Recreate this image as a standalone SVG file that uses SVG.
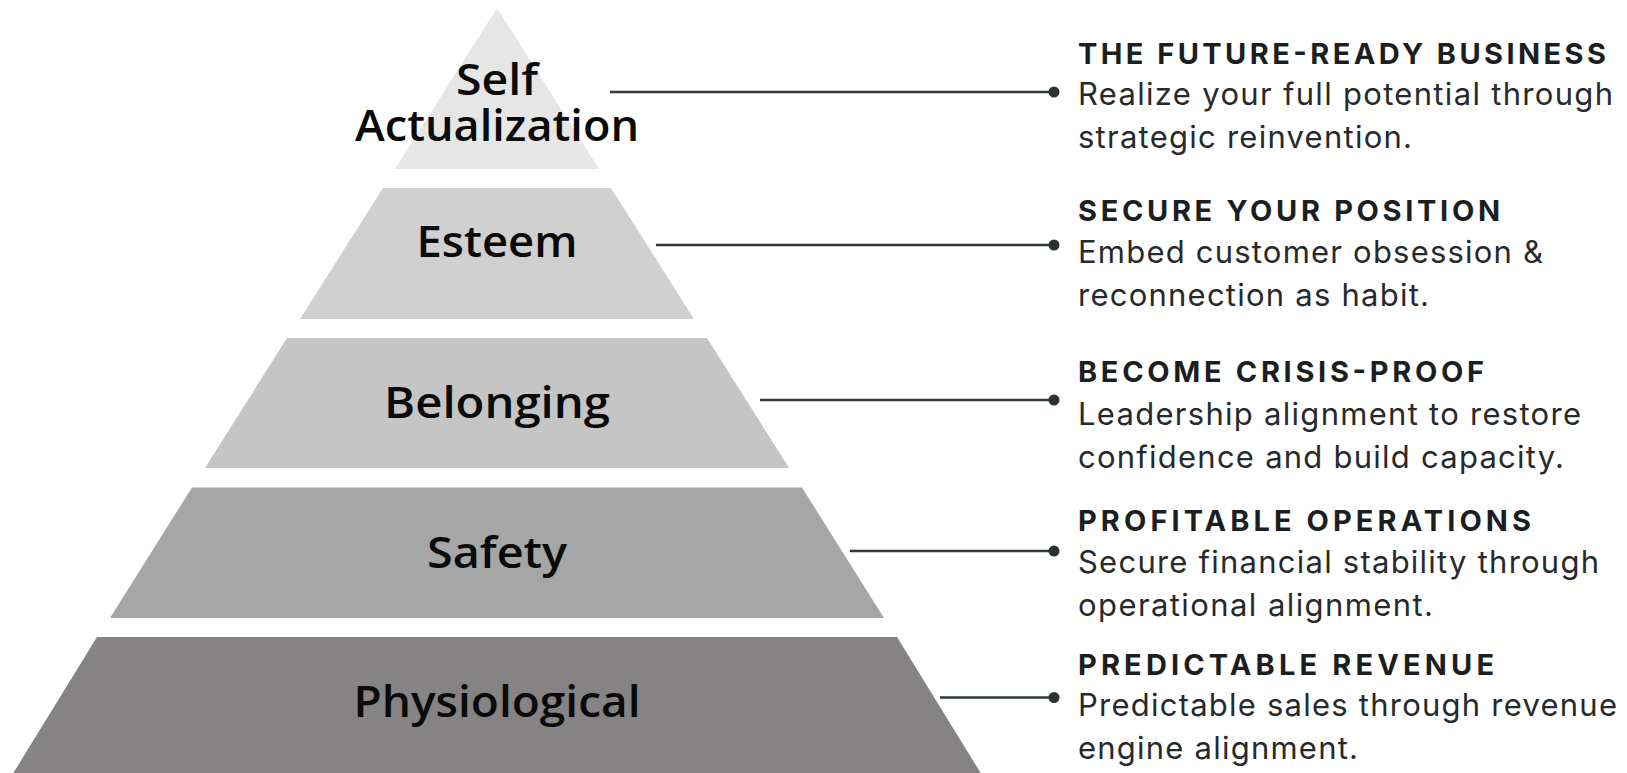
<svg xmlns="http://www.w3.org/2000/svg" width="1627" height="773" viewBox="0 0 1627 773">
  <style>
    .lvl { font-family: "Open Sans", "Liberation Sans", sans-serif; font-weight: 600; font-size: 44px; fill: #0a0a0a; text-anchor: middle; }
    .hd { font-family: Inter, "Liberation Sans", sans-serif; font-weight: 700; font-size: 29px; fill: #1c1f21; }
    .bd { font-family: Inter, "Liberation Sans", sans-serif; font-weight: 400; font-size: 31px; fill: #272a2c; }
    .conn { stroke: #2f393b; stroke-width: 2.6; fill: none; }
    .dot { fill: #2a3234; }
  </style>
  <rect x="0" y="0" width="1627" height="773" fill="#ffffff"/>

  <g id="level-self-actualization">
    <polygon points="497,8 599,169 395,169" fill="#e6e6e6"/>
    <text class="lvl" x="497" y="95" textLength="82" lengthAdjust="spacingAndGlyphs">Self</text>
    <text class="lvl" x="497" y="141" textLength="284" lengthAdjust="spacingAndGlyphs">Actualization</text>
  </g>
  <g id="level-esteem">
    <polygon points="383,188 611,188 694,319 300,319" fill="#d0d0d0"/>
    <text class="lvl" x="497" y="257" textLength="161" lengthAdjust="spacingAndGlyphs">Esteem</text>
  </g>
  <g id="level-belonging">
    <polygon points="287,338 707,338 789,468 205,468" fill="#c5c5c5"/>
    <text class="lvl" x="497" y="418" textLength="226" lengthAdjust="spacingAndGlyphs">Belonging</text>
  </g>
  <g id="level-safety">
    <polygon points="192,487.5 802,487.5 884,618 110,618" fill="#a6a6a6"/>
    <text class="lvl" x="497" y="568" textLength="140" lengthAdjust="spacingAndGlyphs">Safety</text>
  </g>
  <g id="level-physiological">
    <polygon points="97,637 897,637 985,780 9,780" fill="#858384"/>
    <text class="lvl" x="497" y="717" textLength="287" lengthAdjust="spacingAndGlyphs">Physiological</text>
  </g>

  <g id="connectors">
    <line class="conn" x1="610" y1="92" x2="1054" y2="92"/>
    <circle class="dot" cx="1054" cy="92" r="5.5"/>
    <line class="conn" x1="656" y1="245" x2="1054" y2="245"/>
    <circle class="dot" cx="1054" cy="245" r="5.5"/>
    <line class="conn" x1="760" y1="400" x2="1054" y2="400"/>
    <circle class="dot" cx="1054" cy="400" r="5.5"/>
    <line class="conn" x1="850" y1="551" x2="1054" y2="551"/>
    <circle class="dot" cx="1054" cy="551" r="5.5"/>
    <line class="conn" x1="940" y1="697.5" x2="1054" y2="697.5"/>
    <circle class="dot" cx="1054" cy="697.5" r="5.5"/>
  </g>

  <g id="desc-future-ready">
    <text class="hd" x="1078" y="64" textLength="528" lengthAdjust="spacing">THE FUTURE-READY BUSINESS</text>
    <text class="bd" x="1078" y="105" textLength="535" lengthAdjust="spacing">Realize your full potential through</text>
    <text class="bd" x="1078" y="148" textLength="334" lengthAdjust="spacing">strategic reinvention.</text>
  </g>
  <g id="desc-secure-position">
    <text class="hd" x="1078" y="221" textLength="422" lengthAdjust="spacing">SECURE YOUR POSITION</text>
    <text class="bd" x="1078" y="263" textLength="465" lengthAdjust="spacing">Embed customer obsession &amp;</text>
    <text class="bd" x="1078" y="306" textLength="351" lengthAdjust="spacing">reconnection as habit.</text>
  </g>
  <g id="desc-crisis-proof">
    <text class="hd" x="1078" y="382" textLength="406" lengthAdjust="spacing">BECOME CRISIS-PROOF</text>
    <text class="bd" x="1078" y="425" textLength="503" lengthAdjust="spacing">Leadership alignment to restore</text>
    <text class="bd" x="1078" y="468" textLength="486" lengthAdjust="spacing">confidence and build capacity.</text>
  </g>
  <g id="desc-profitable-operations">
    <text class="hd" x="1078" y="531" textLength="453" lengthAdjust="spacing">PROFITABLE OPERATIONS</text>
    <text class="bd" x="1078" y="573" textLength="521" lengthAdjust="spacing">Secure financial stability through</text>
    <text class="bd" x="1078" y="616" textLength="355" lengthAdjust="spacing">operational alignment.</text>
  </g>
  <g id="desc-predictable-revenue">
    <text class="hd" x="1078" y="675" textLength="416" lengthAdjust="spacing">PREDICTABLE REVENUE</text>
    <text class="bd" x="1078" y="716" textLength="539" lengthAdjust="spacing">Predictable sales through revenue</text>
    <text class="bd" x="1078" y="759" textLength="280" lengthAdjust="spacing">engine alignment.</text>
  </g>
</svg>
